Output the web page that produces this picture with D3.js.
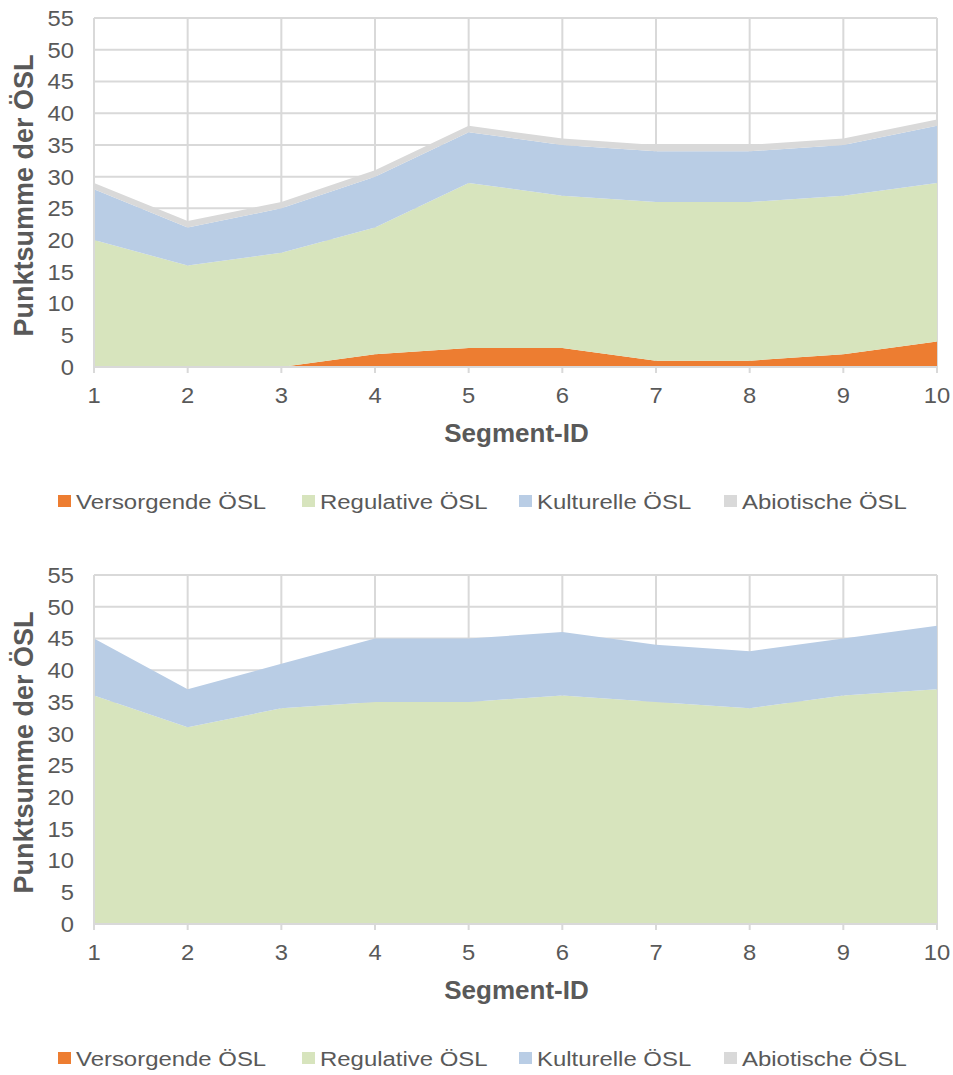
<!DOCTYPE html>
<html>
<head>
<meta charset="utf-8">
<script src="https://cdn.jsdelivr.net/npm/d3@7"></script>
<style>
  body { margin: 0; background: #fff; }
  svg { display: block; font-family: "Liberation Sans", Arial, sans-serif; }
</style>
</head>
<body>
<svg id="chart" width="953" height="1075"></svg>
<script>
// Segment IDs along the x axis
const segments = [1, 2, 3, 4, 5, 6, 7, 8, 9, 10];
const yTicks = [0, 5, 10, 15, 20, 25, 30, 35, 40, 45, 50, 55];
const seriesNames = ["Versorgende ÖSL", "Regulative ÖSL", "Kulturelle ÖSL", "Abiotische ÖSL"];
const seriesColors = ["#ED7D31", "#D7E4BD", "#B9CDE5", "#D9D9D9"];

// Upper chart: points per service category
const topVersorgende = [0, 0, 0, 2, 3, 3, 1, 1, 2, 4];
const topRegulative  = [20, 16, 18, 20, 26, 24, 25, 25, 25, 25];
const topKulturelle  = [8, 6, 7, 8, 8, 8, 8, 8, 8, 9];
const topAbiotische  = [1, 1, 1, 1, 1, 1, 1, 1, 1, 1];

// Lower chart
const botVersorgende = [0, 0, 0, 0, 0, 0, 0, 0, 0, 0];
const botRegulative  = [36, 31, 34, 35, 35, 36, 35, 34, 36, 37];
const botKulturelle  = [9, 6, 7, 10, 10, 10, 9, 9, 9, 10];
const botAbiotische  = [0, 0, 0, 0, 0, 0, 0, 0, 0, 0];

const svg = d3.select("#chart");
const textColor = "#595959";
const gridColor = "#D9D9D9";

function drawPanel(top, seriesValues) {
  const left = 94, right = 937, plotTop = top, plotBottom = top + 349;
  const x = d3.scaleLinear().domain([1, 10]).range([left, right]);
  const y = d3.scaleLinear().domain([0, 55]).range([plotBottom, plotTop]);
  const g = svg.append("g");

  const rows = segments.map((s, i) => {
    const r = { seg: s };
    seriesNames.forEach((n, k) => { r[n] = seriesValues[k][i]; });
    return r;
  });
  const stacked = d3.stack().keys(seriesNames)(rows);

  // gridlines
  g.append("g").selectAll("line").data(yTicks.filter(t => t > 0)).join("line")
    .attr("x1", left).attr("x2", right)
    .attr("y1", d => y(d)).attr("y2", d => y(d))
    .attr("stroke", gridColor).attr("stroke-width", 2);
  g.append("g").selectAll("line").data(segments.slice(1)).join("line")
    .attr("x1", d => x(d)).attr("x2", d => x(d))
    .attr("y1", plotTop).attr("y2", plotBottom)
    .attr("stroke", gridColor).attr("stroke-width", 2);

  // stacked areas
  const area = d3.area()
    .x(d => x(d.data.seg))
    .y0(d => y(d[0]))
    .y1(d => y(d[1]));
  g.append("g").selectAll("path").data(stacked).join("path")
    .attr("d", area)
    .attr("fill", (d, i) => seriesColors[i]);

  // axis lines and category ticks
  g.append("line").attr("x1", left).attr("x2", left)
    .attr("y1", plotTop).attr("y2", plotBottom)
    .attr("stroke", gridColor).attr("stroke-width", 2);
  g.append("line").attr("x1", left - 1).attr("x2", right + 1)
    .attr("y1", plotBottom).attr("y2", plotBottom)
    .attr("stroke", gridColor).attr("stroke-width", 2);
  g.append("g").selectAll("line").data(segments).join("line")
    .attr("x1", d => x(d)).attr("x2", d => x(d))
    .attr("y1", plotBottom).attr("y2", plotBottom + 6)
    .attr("stroke", gridColor).attr("stroke-width", 2);

  // y tick labels
  g.append("g").selectAll("text").data(yTicks).join("text")
    .attr("transform", d => `translate(74,${y(d)}) scale(1.08,1)`)
    .attr("dy", "0.36em")
    .attr("text-anchor", "end")
    .attr("font-size", 22).attr("fill", textColor)
    .text(d => d);

  // x tick labels
  g.append("g").selectAll("text").data(segments).join("text")
    .attr("transform", d => `translate(${x(d)},${plotBottom + 36}) scale(1.08,1)`)
    .attr("text-anchor", "middle")
    .attr("font-size", 22).attr("fill", textColor)
    .text(d => d);

  // axis titles
  g.append("text")
    .attr("x", (left + right) / 2 + 1).attr("y", plotBottom + 75)
    .attr("text-anchor", "middle")
    .attr("font-size", 26).attr("font-weight", "bold").attr("fill", textColor)
    .text("Segment-ID");
  g.append("text")
    .attr("transform", `translate(23,${(plotTop + plotBottom) / 2 + 3}) rotate(-90)`)
    .attr("dy", "0.36em")
    .attr("text-anchor", "middle")
    .attr("font-size", 27).attr("font-weight", "bold").attr("fill", textColor)
    .text("Punktsumme der ÖSL");

  // legend
  const legendX = [58, 302, 519, 724];
  const ly = plotBottom + 134;
  const lg = g.append("g").selectAll("g").data(seriesNames).join("g")
    .attr("transform", (d, i) => `translate(${legendX[i]},${ly})`);
  lg.append("rect").attr("x", 0).attr("y", -6).attr("width", 13).attr("height", 12)
    .attr("fill", (d, i) => seriesColors[i]);
  lg.append("text")
    .attr("transform", "translate(18,0) scale(1.14,1)")
    .attr("dy", "0.36em")
    .attr("font-size", 21).attr("fill", textColor)
    .text(d => d);
}

drawPanel(18, [topVersorgende, topRegulative, topKulturelle, topAbiotische]);
drawPanel(575, [botVersorgende, botRegulative, botKulturelle, botAbiotische]);
</script>
</body>
</html>
